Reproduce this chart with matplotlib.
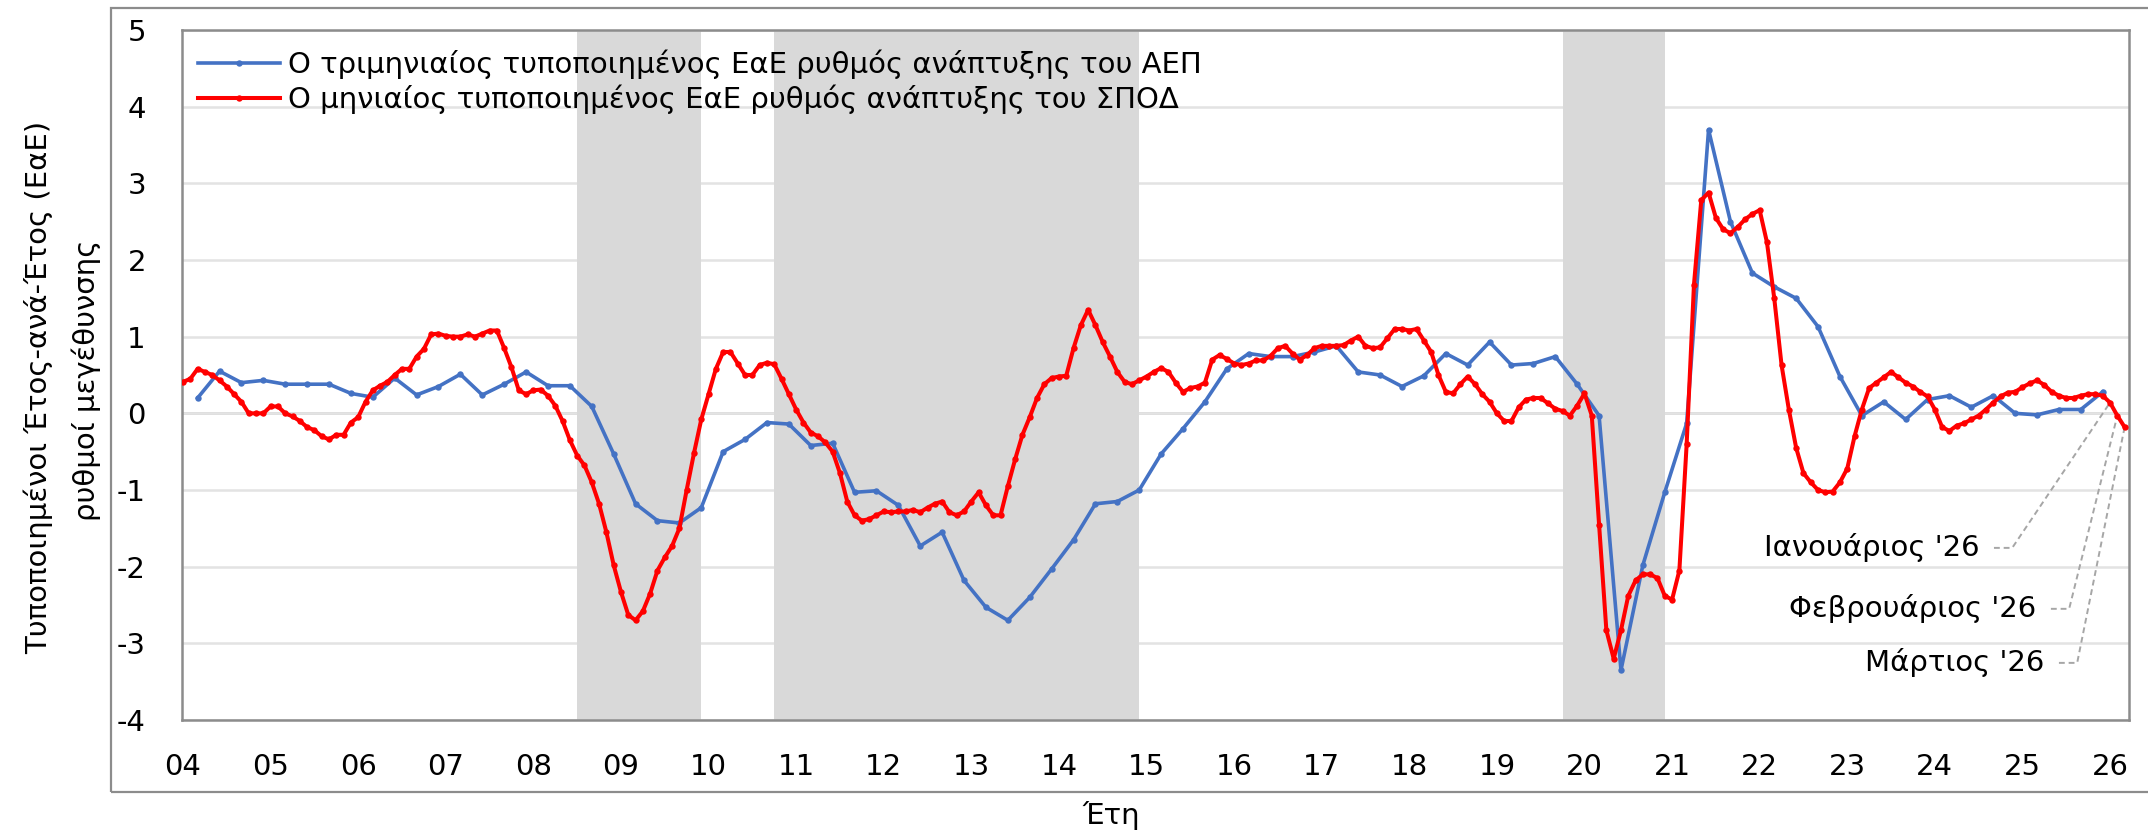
import numpy as np
import matplotlib.pyplot as plt
from matplotlib.lines import Line2D
from matplotlib.patches import Rectangle

plt.rcParams['font.family'] = ['DejaVu Sans']
plt.rcParams['axes.unicode_minus'] = False

# -----------------------------
# Data (x = month index, 0 = Jan 2004)
# -----------------------------
# monthly standardised YoY growth of the composite index (red), Jan 2004 - Mar 2026
spod = [
    0.41, 0.45, 0.58, 0.54, 0.50, 0.43, 0.35, 0.25, 0.15, 0.00, 0.00, 0.00,        # 2004
    0.09, 0.09, 0.00, -0.04, -0.10, -0.18, -0.22, -0.30, -0.34, -0.28, -0.28, -0.12,  # 2005
    -0.05, 0.15, 0.30, 0.36, 0.41, 0.50, 0.58, 0.58, 0.74, 0.84, 1.03, 1.04,      # 2006
    1.01, 1.00, 1.00, 1.03, 1.00, 1.04, 1.08, 1.08, 0.85, 0.60, 0.30, 0.25,       # 2007
    0.30, 0.31, 0.23, 0.10, -0.10, -0.35, -0.55, -0.68, -0.90, -1.18, -1.55, -1.98,  # 2008
    -2.33, -2.63, -2.70, -2.58, -2.35, -2.05, -1.88, -1.73, -1.50, -1.00, -0.52, -0.08,  # 2009
    0.25, 0.58, 0.80, 0.80, 0.65, 0.50, 0.50, 0.63, 0.66, 0.64, 0.45, 0.25,       # 2010
    0.05, -0.12, -0.25, -0.30, -0.38, -0.50, -0.78, -1.15, -1.33, -1.40, -1.38, -1.33,  # 2011
    -1.28, -1.29, -1.28, -1.28, -1.26, -1.29, -1.23, -1.18, -1.15, -1.29, -1.33, -1.28,  # 2012
    -1.15, -1.03, -1.20, -1.33, -1.33, -0.95, -0.60, -0.28, -0.05, 0.20, 0.38, 0.46,  # 2013
    0.48, 0.49, 0.85, 1.15, 1.35, 1.15, 0.93, 0.74, 0.54, 0.41, 0.38, 0.43,       # 2014
    0.48, 0.54, 0.59, 0.54, 0.40, 0.28, 0.33, 0.35, 0.40, 0.70, 0.76, 0.71,       # 2015
    0.65, 0.63, 0.65, 0.69, 0.69, 0.75, 0.85, 0.88, 0.78, 0.70, 0.76, 0.85,       # 2016
    0.88, 0.88, 0.88, 0.89, 0.95, 1.00, 0.88, 0.85, 0.86, 0.98, 1.10, 1.10,       # 2017
    1.08, 1.10, 0.95, 0.80, 0.50, 0.28, 0.26, 0.38, 0.48, 0.38, 0.25, 0.15,       # 2018
    0.00, -0.10, -0.10, 0.08, 0.18, 0.20, 0.20, 0.13, 0.06, 0.03, -0.03, 0.10,    # 2019
    0.26, -0.03, -1.45, -2.83, -3.20, -2.83, -2.38, -2.18, -2.10, -2.10, -2.15, -2.38,  # 2020
    -2.43, -2.05, -0.40, 1.68, 2.78, 2.88, 2.55, 2.40, 2.35, 2.43, 2.53, 2.60,    # 2021
    2.65, 2.23, 1.50, 0.63, 0.05, -0.45, -0.78, -0.90, -1.00, -1.03, -1.02, -0.90,  # 2022
    -0.72, -0.30, 0.05, 0.33, 0.40, 0.47, 0.54, 0.47, 0.40, 0.35, 0.28, 0.22,     # 2023
    0.05, -0.18, -0.23, -0.16, -0.13, -0.08, -0.03, 0.05, 0.14, 0.22, 0.27, 0.28,  # 2024
    0.34, 0.39, 0.43, 0.37, 0.28, 0.23, 0.20, 0.20, 0.23, 0.25, 0.25, 0.23,       # 2025
    0.14, -0.03, -0.18,                                                           # 2026
]

# quarterly standardised YoY GDP growth (blue), Q1 2004 - Q4 2025
gdp = [
    0.20, 0.55, 0.40, 0.43,     # 2004
    0.38, 0.38, 0.38, 0.26,     # 2005
    0.21, 0.46, 0.24, 0.35,     # 2006
    0.51, 0.24, 0.38, 0.54,     # 2007
    0.36, 0.36, 0.09, -0.53,    # 2008
    -1.18, -1.40, -1.43, -1.23,  # 2009
    -0.50, -0.34, -0.12, -0.14,  # 2010
    -0.42, -0.39, -1.03, -1.01,  # 2011
    -1.20, -1.73, -1.55, -2.18,  # 2012
    -2.53, -2.70, -2.40, -2.03,  # 2013
    -1.65, -1.18, -1.15, -1.00,  # 2014
    -0.53, -0.20, 0.15, 0.58,   # 2015
    0.78, 0.74, 0.74, 0.80,     # 2016
    0.88, 0.54, 0.50, 0.35,     # 2017
    0.49, 0.78, 0.63, 0.93,     # 2018
    0.63, 0.65, 0.74, 0.38,     # 2019
    -0.03, -3.35, -1.98, -1.03,  # 2020
    -0.13, 3.70, 2.50, 1.83,    # 2021
    1.65, 1.50, 1.13, 0.48,     # 2022
    -0.03, 0.15, -0.08, 0.18,   # 2023
    0.23, 0.08, 0.23, 0.00,     # 2024
    -0.02, 0.05, 0.05, 0.28,    # 2025
]

years = [f"{y:02d}" for y in range(4, 27)]

# recession periods (start / end month index)
recessions = [(54, 71), (81, 131), (189, 203)]

last_months = [264, 265, 266]
last_labels = ["Ιανουάριος '26", "Φεβρουάριος '26", "Μάρτιος '26"]

spod_x = np.arange(len(spod))
gdp_x = np.arange(2, 2 + 3 * len(gdp), 3)   # quarter end months
year_pos = np.arange(0, 12 * len(years), 12)

# -----------------------------
# Figure
# -----------------------------
W, H = 2148, 830
fig = plt.figure(figsize=(W / 100, H / 100), dpi=100)


def fx(px):
    return px / W


def fy(py):
    return 1 - py / H


# outer chart frame
fig.patches.append(Rectangle((fx(111), fy(792)), fx(2200) - fx(111), fy(8) - fy(792),
                             transform=fig.transFigure, fill=False,
                             edgecolor='#8C8C8C', lw=1.6))

ax = fig.add_axes([fx(182), fy(720), fx(2129) - fx(182), fy(30) - fy(720)])

BLUE = '#4472C4'
RED = '#FF0000'
FS = 21

for s, e in recessions:
    ax.axvspan(s, e, color='#D9D9D9', lw=0, zorder=1)

ax.set_yticks(range(-4, 6))
ax.grid(axis='y', color='#E3E3E3', lw=1.8, zorder=0)
ax.axhline(0, color='#CFCFCF', lw=2.0, zorder=0.5)
ax.set_axisbelow(True)

ax.plot(gdp_x, gdp, color=BLUE, lw=2.6, marker='o', ms=4.6, mew=0, zorder=3)
ax.plot(spod_x, spod, color=RED, lw=2.9, marker='o', ms=4.6, mew=0, zorder=4)

ax.set_xlim(-0.14, 266.6)
ax.set_ylim(-4, 5)
ax.set_xticks(year_pos)
ax.set_xticklabels(years)
ax.tick_params(axis='x', length=0, pad=24, labelsize=FS)
ax.tick_params(axis='y', length=0, pad=26, labelsize=FS)

for sp in ax.spines.values():
    sp.set_color('#8C8C8C')
    sp.set_linewidth(1.8)

# leader labels for the last three months
label_pos = [(246.1, -1.755), (253.9, -2.55), (255.0, -3.255)]
for m, lab, (tx, ty) in zip(last_months, last_labels, label_pos):
    ax.text(tx, ty, lab, ha='right', va='center', fontsize=FS, zorder=5)
    ax.plot([tx + 2.0, tx + 4.5, m], [ty, ty, spod[m]], ls=(0, (3, 2)),
            color='#A6A6A6', lw=1.4, zorder=2)

# legend
handles = [Line2D([], [], color=BLUE, lw=2.6, marker='o', ms=4.6, mew=0),
           Line2D([], [], color=RED, lw=2.9, marker='o', ms=4.6, mew=0)]
labels = ["Ο τριμηνιαίος τυποποιημένος ΕαΕ ρυθμός ανάπτυξης του ΑΕΠ",
          "Ο μηνιαίος τυποποιημένος ΕαΕ ρυθμός ανάπτυξης του ΣΠΟΔ"]
ax.legend(handles, labels, loc='upper left', bbox_to_anchor=(0.0082, 0.972),
          frameon=False, fontsize=FS, handlelength=2.8, handletextpad=0.3,
          labelspacing=0.2, borderpad=0, borderaxespad=0)

# axis titles
fig.text(fx(38), fy(387), "Τυποποιημένοι Έτος-ανά-Έτος (ΕαΕ)", rotation=90,
         ha='center', va='center', fontsize=FS)
fig.text(fx(86), fy(380), "ρυθμοί μεγέθυνσης", rotation=90,
         ha='center', va='center', fontsize=FS)
fig.text(fx(1111), fy(815), "Έτη", ha='center', va='center', fontsize=FS)

fig.savefig("out.png", dpi=100)
plt.close(fig)
